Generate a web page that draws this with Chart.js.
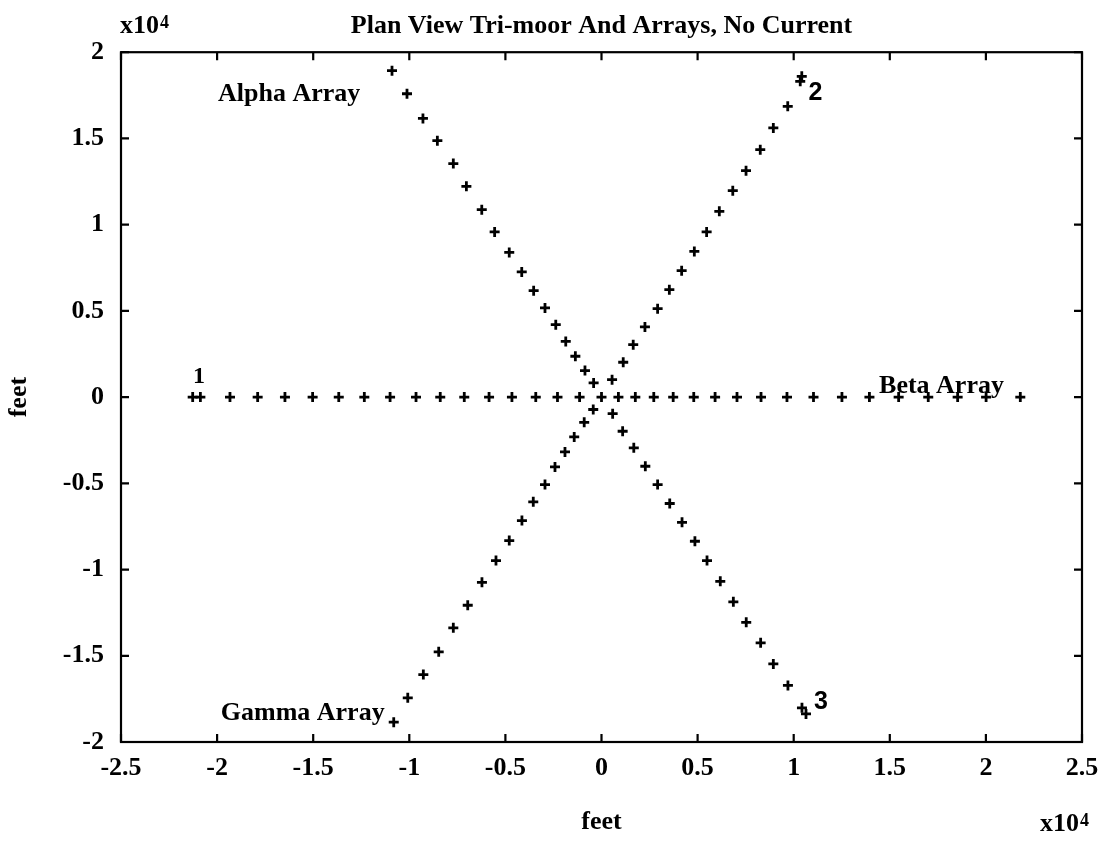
<!DOCTYPE html>
<html>
<head>
<meta charset="utf-8">
<title>Plan View Tri-moor And Arrays</title>
<script src="https://cdn.jsdelivr.net/npm/chart.js@4.4.1/dist/chart.umd.min.js"></script>
<style>
  html, body { margin: 0; padding: 0; background: #fff; }
  canvas { display: block; }
</style>
</head>
<body>
<canvas id="planChart" width="1104" height="842"></canvas>
<script>
// Element positions, in units of 10^4 feet

// Alpha array: upper-left leg down through the centre to anchor 3
const alphaX = [-1.090, -1.012, -0.929, -0.854, -0.771, -0.703, -0.623, -0.556, -0.480, -0.415, -0.353, -0.294,
    -0.238, -0.186, -0.136, -0.086, -0.041, 0.058, 0.110, 0.168, 0.228, 0.292, 0.355, 0.419, 0.486, 0.549,
    0.618, 0.686, 0.753, 0.828, 0.894, 0.970, 1.043, 1.064];
const alphaY = [1.893, 1.759, 1.616, 1.487, 1.354, 1.222, 1.087, 0.958, 0.839, 0.726, 0.617, 0.517,
    0.420, 0.323, 0.237, 0.154, 0.082, -0.096, -0.198, -0.294, -0.401, -0.507, -0.617, -0.726, -0.836, -0.948,
    -1.068, -1.187, -1.306, -1.425, -1.547, -1.672, -1.802, -1.837];

// Beta array: anchor 1 across to the right-hand end
const betaX = [-2.127, -2.087, -1.933, -1.789, -1.647, -1.503, -1.367, -1.234, -1.100, -0.965, -0.839, -0.714,
    -0.585, -0.466, -0.342, -0.229, -0.114, 0, 0.088, 0.176, 0.272, 0.373, 0.480, 0.591, 0.705, 0.830,
    0.965, 1.103, 1.251, 1.394, 1.546, 1.700, 1.853, 2.001, 2.179];
const betaY = betaX.map(() => 0);

// Gamma array: lower-left leg up through the centre to anchor 2
const gammaX = [-1.081, -1.008, -0.927, -0.847, -0.771, -0.696, -0.622, -0.549, -0.480, -0.414, -0.355, -0.294,
    -0.242, -0.190, -0.142, -0.090, -0.043, 0.055, 0.113, 0.165, 0.226, 0.292, 0.353, 0.417, 0.483, 0.547,
    0.613, 0.683, 0.752, 0.826, 0.894, 0.969, 1.034, 1.042];
const gammaY = [-1.885, -1.744, -1.609, -1.477, -1.338, -1.207, -1.074, -0.948, -0.832, -0.716, -0.607, -0.507,
    -0.405, -0.318, -0.231, -0.146, -0.072, 0.101, 0.202, 0.304, 0.407, 0.513, 0.623, 0.733, 0.845, 0.958,
    1.077, 1.197, 1.313, 1.435, 1.561, 1.686, 1.831, 1.860];

const xTicks = [-2.5, -2, -1.5, -1, -0.5, 0, 0.5, 1, 1.5, 2, 2.5];
const yTicks = [-2, -1.5, -1, -0.5, 0, 0.5, 1, 1.5, 2];

const serif = "'Liberation Serif', 'Times New Roman', serif";
const sans = "'Liberation Sans', Arial, sans-serif";

// Labels written on the plot, placed in axis units
const notes = [
    { text: 'Alpha Array', x: -1.995, y: 1.718, align: 'left', font: `bold 26px ${serif}` },
    { text: 'Beta Array', x: 1.444, y: 0.022, align: 'left', font: `bold 26px ${serif}` },
    { text: 'Gamma Array', x: -1.981, y: -1.874, align: 'left', font: `bold 26px ${serif}` },
    { text: '1', x: -2.094, y: 0.082, align: 'center', font: `bold 24px ${serif}` },
    { text: '2', x: 1.113, y: 1.724, align: 'center', font: `bold 25px ${sans}` },
    { text: '3', x: 1.142, y: -1.810, align: 'center', font: `bold 25px ${sans}` }
];

function makeSet(label, xs, ys) {
    return {
        label: label,
        data: xs.map((x, i) => ({ x: x, y: ys[i] })),
        showLine: false,
        pointStyle: 'cross',
        pointRadius: 5,
        pointHoverRadius: 5,
        borderColor: '#000',
        backgroundColor: '#000',
        borderWidth: 2.8
    };
}

// "x10^4" scale marker
function drawPower(ctx, px, py) {
    ctx.textAlign = 'left';
    ctx.font = `bold 26px ${serif}`;
    ctx.fillText('x10', px, py);
    const w = ctx.measureText('x10').width;
    ctx.font = `bold 18px ${serif}`;
    ctx.fillText('4', px + w + 1, py - 5);
}

// Box round the plot with inward tick marks on all four sides
const frameTicks = {
    id: 'frameTicks',
    afterDraw(chart) {
        const { ctx, chartArea: { left, right, top, bottom }, scales: { x, y } } = chart;
        const len = 8;
        ctx.save();
        ctx.strokeStyle = '#000';
        ctx.lineWidth = 2.2;
        ctx.strokeRect(left, top, right - left, bottom - top);
        ctx.beginPath();
        xTicks.forEach(v => {
            const px = x.getPixelForValue(v);
            ctx.moveTo(px, bottom); ctx.lineTo(px, bottom - len);
            ctx.moveTo(px, top); ctx.lineTo(px, top + len);
        });
        yTicks.forEach(v => {
            const py = y.getPixelForValue(v);
            ctx.moveTo(left, py); ctx.lineTo(left + len, py);
            ctx.moveTo(right, py); ctx.lineTo(right - len, py);
        });
        ctx.stroke();
        ctx.restore();
    }
};

const plotNotes = {
    id: 'plotNotes',
    afterDraw(chart) {
        const { ctx, chartArea, scales: { x, y } } = chart;
        ctx.save();
        ctx.fillStyle = '#000';
        ctx.textBaseline = 'alphabetic';
        notes.forEach(n => {
            ctx.font = n.font;
            ctx.textAlign = n.align;
            ctx.fillText(n.text, x.getPixelForValue(n.x), y.getPixelForValue(n.y));
        });
        drawPower(ctx, chartArea.left - 1, 33);
        drawPower(ctx, chartArea.right - 42, chart.height - 11);
        ctx.restore();
    }
};

const tickFont = { family: serif, size: 26, weight: 'bold' };

new Chart(document.getElementById('planChart'), {
    type: 'scatter',
    data: {
        datasets: [
            makeSet('Alpha Array', alphaX, alphaY),
            makeSet('Beta Array', betaX, betaY),
            makeSet('Gamma Array', gammaX, gammaY)
        ]
    },
    options: {
        responsive: false,
        animation: false,
        layout: { padding: { left: 0, right: 22, top: 0, bottom: 0 } },
        plugins: {
            legend: { display: false },
            tooltip: { enabled: false },
            title: {
                display: true,
                text: 'Plan View Tri-moor And Arrays, No Current',
                fullSize: false,
                color: '#000',
                font: { family: serif, size: 26, weight: 'bold' },
                padding: { top: 11, bottom: 10 }
            }
        },
        scales: {
            x: {
                type: 'linear',
                min: -2.5,
                max: 2.5,
                afterFit: s => { s.height = 100; },
                afterBuildTicks: s => { s.ticks = xTicks.map(v => ({ value: v })); },
                grid: { display: false },
                border: { display: false },
                ticks: { color: '#000', font: tickFont, padding: 3, maxRotation: 0, callback: v => String(v) },
                title: { display: true, text: 'feet', color: '#000', font: tickFont, padding: { top: 0, bottom: 4 } }
            },
            y: {
                type: 'linear',
                min: -2,
                max: 2,
                afterFit: s => { s.width = 121; },
                afterBuildTicks: s => { s.ticks = yTicks.map(v => ({ value: v })); },
                grid: { display: false },
                border: { display: false },
                ticks: { color: '#000', font: tickFont, padding: 9, callback: v => String(v) },
                title: { display: true, text: 'feet', color: '#000', font: tickFont, padding: { top: 4, bottom: 0 } }
            }
        }
    },
    plugins: [frameTicks, plotNotes]
});
</script>
</body>
</html>
